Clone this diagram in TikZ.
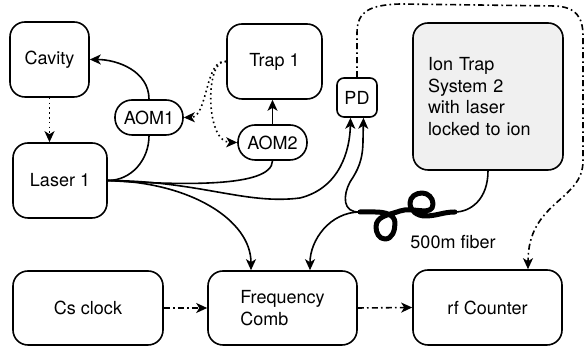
\documentclass[tikz,border=0pt]{standalone}
\usepackage{fontspec}
\setmainfont{TeX Gyre Heros}
\usetikzlibrary{arrows.meta}

\tikzset{
	box/.style={draw, line width=0.8pt, rounded corners=7.5pt, align=center},
	pill/.style={draw, line width=0.8pt, rounded corners=8.5pt, minimum height=17.5pt, inner sep=1pt},
	line/.style={line width=0.8pt},
	conn/.style={line, -{Stealth[length=5.5pt,width=5pt,inset=1.5pt]}},
	dotconn/.style={conn, dash pattern=on 0.8pt off 1.6pt},
	dashconn/.style={conn, dash pattern=on 3pt off 1.6pt on 0.8pt off 1.6pt},
	fiber/.style={line width=2.5pt, line cap=round, line join=round}
}

\begin{document}
\begin{tikzpicture}[x=0.5pt, y=0.5pt, font=\fontsize{9}{10.8}\selectfont]
		\useasboundingbox (0,0) rectangle (585,351);

		\node[box, minimum width=39.5pt, minimum height=37.5pt] (cavity) at (49.5,291.5) {Cavity};
		\node[box, minimum width=47pt, minimum height=37.5pt] (laser) at (60,170.5) {Laser 1};
		\node[pill, minimum width=34pt] (aom1) at (149,233.5) {AOM1};
		\node[pill, minimum width=34.5pt] (aom2) at (272.5,208.5) {AOM2};
		\node[box, minimum width=47.5pt, minimum height=37.5pt] (trap1) at (274.5,289.5) {Trap 1};
		\node[box, rounded corners=3.5pt, minimum width=20pt, minimum height=19.5pt, inner sep=1pt] (pd) at (357,253.5) {PD};
		\node[box, fill=black!6, align=left, text width=60pt, inner xsep=7.5pt, minimum height=73.5pt] (ion) at (488,254.5) {Ion Trap\\System 2\\with laser\\locked to ion};
		\node[box, minimum width=75pt, minimum height=37pt] (cs) at (88,43) {Cs clock};
		\node[box, align=left, minimum width=74.5pt, minimum height=37pt] (comb) at (282.5,43) {Frequency\\Comb};
		\node[box, minimum width=74.5pt, minimum height=37.5pt] (rf) at (487.5,43.5) {rf Counter};
		\node (fiberlbl) at (453,109) {500m fiber};

		\coordinate (fl) at (360,139);
		\coordinate (fr) at (455,139);

		\draw[conn] (aom1.north) to[out=90,in=0] (cavity.east);
		\draw[dotconn] (cavity.south) -- (cavity.south |- laser.north);
		\draw[line] (laser.east) to[out=0,in=-90] (aom1.south);
		\draw[line] (laser.east) .. controls (180,166) and (272,163) .. (aom2.south);
		\draw[conn] (aom2.north) -- (aom2.north |- trap1.south);
		\draw[dotconn] (trap1.west) .. controls (205,293) and (208,234) .. (aom1.east);
		\draw[dotconn] (trap1.west) .. controls (205,293) and (205,209) .. (aom2.west);
		\draw[conn] (laser.east) .. controls (200,170) and (245,146) .. (300,153) .. controls (340,163) and (350,201) .. ([xshift=-3.25pt]pd.south);
		\draw[conn] (laser.east) .. controls (190,169) and (251,131) .. ([xshift=-15.75pt]comb.north);

		\draw[line] (ion.south) .. controls (488,151) and (470,139) .. (fr);
		\draw[fiber] (fl) -- (375,139) to[out=0,in=90] (395,128) to[out=-90,in=0] (385,112) to[out=180,in=-90] (376,124)
			to[out=90,in=200] (400,140) to[out=20,in=-90] (433,147) to[out=90,in=0] (422,158)
			to[out=180,in=90] (410,148) to[out=-90,in=180] (425,135) to[out=0,in=180] (fr);
		\draw[conn] (fl) .. controls (342,138) and (343,156) .. (350,169) .. controls (358,181) and (363,191) .. (363,211) -- ([xshift=3.25pt]pd.south);
		\draw[conn] (fl) .. controls (330,139) and (310,111) .. ([xshift=13.75pt]comb.north);

		\draw[dashconn] (pd.north) -- (357,318) .. controls (357,340) and (370,346) .. (400,347) -- (555,345)
			.. controls (575,344) and (583,335) .. (583,315) -- (583,190) .. controls (583,150) and (528,150) .. ([xshift=20.25pt]rf.north);
		\draw[dashconn] (cs.east) -- (comb.west);
		\draw[dashconn] (comb.east) -- (rf.west);
	\end{tikzpicture}
\end{document}
